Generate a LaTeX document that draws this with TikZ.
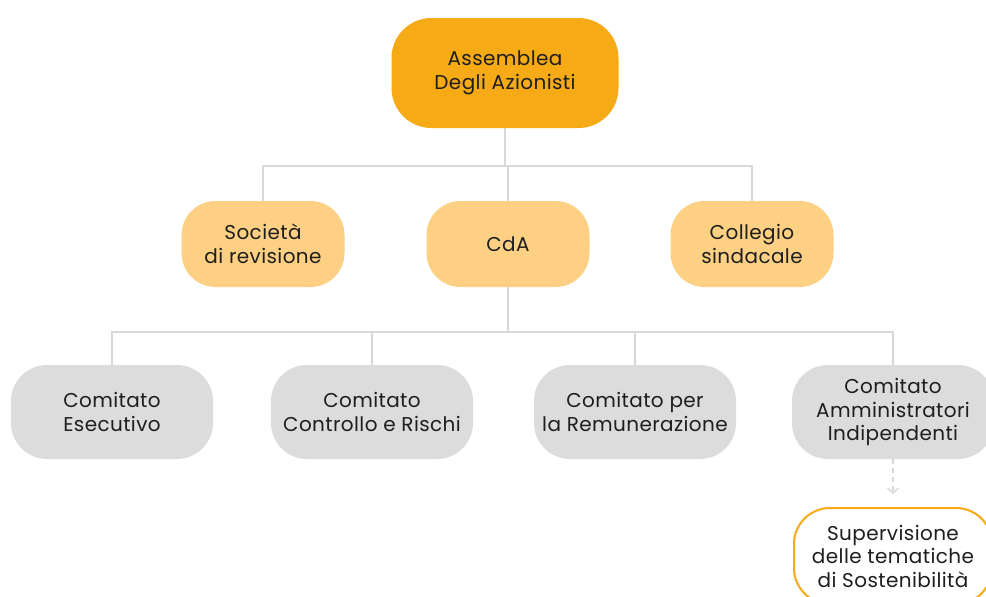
\documentclass[tikz,border=0pt]{standalone}
\usepackage{fontspec}
\setmainfont[LetterSpace=2]{Poppins}
\usepackage{xcolor}
\usepackage{tikz}
\usetikzlibrary{arrows.meta}
\definecolor{assorange}{HTML}{F6AB16}
\definecolor{paleorange}{HTML}{FDD084}
\definecolor{boxgray}{HTML}{DCDCDC}
\definecolor{linegray}{HTML}{D8D8D8}
\definecolor{txt}{HTML}{1E1E1E}

\begin{document}
\begin{tikzpicture}[x=1pt,y=-1pt,
    every node/.style={font=\fontsize{20}{23.5}\selectfont,text=txt,align=center},
    topbox/.style={fill=assorange,rounded corners=40pt,minimum width=227pt,minimum height=110pt},
    midbox/.style={fill=paleorange,rounded corners=34pt,minimum width=163pt,minimum height=86pt},
    combox/.style={fill=boxgray,rounded corners=36pt,minimum width=202pt,minimum height=94pt},
    supbox/.style={draw=assorange,line width=2pt,fill=white,rounded corners=36pt,minimum width=198pt,minimum height=96pt},
    conn/.style={draw=linegray,line width=1.5pt}]
    \useasboundingbox (0,0) rectangle (986,597);
    \clip (0,0) rectangle (986,597);
    \node[topbox] (assem) at (505,73) {Assemblea\\Degli Azionisti};
    \node[midbox] (soc) at (263,244) {Società\\di revisione};
    \node[midbox] (cda) at (508,244) {CdA};
    \node[midbox] (coll) at (752,244) {Collegio\\sindacale};
    \node[combox] (esec) at (112,412) {Comitato\\Esecutivo};
    \node[combox] (ctrl) at (372,412) {Comitato\\Controllo e Rischi};
    \node[combox] (rem) at (635,412) {Comitato per\\la Remunerazione};
    \node[combox] (ind) at (893,412) {Comitato\\Amministratori\\Indipendenti};
    \node[supbox] (sost) at (893,556) {Supervisione\\delle tematiche\\di Sostenibilità};
    \coordinate (bus1) at (505,166);
    \coordinate (bus2) at (508,332);
    \coordinate (tip) at (893,494);
    \draw[conn] (assem.south) -- (bus1);
    \draw[conn] (soc.north) |- (bus1) -| (coll.north);
    \draw[conn] (bus1) -| (cda.north);
    \draw[conn] (cda.south) -- (bus2);
    \draw[conn] (esec.north) |- (bus2) -| (ind.north);
    \draw[conn] (ctrl.north) |- (bus2);
    \draw[conn] (rem.north) |- (bus2);
    \draw[conn,dashed,dash pattern=on 5pt off 4pt,-{Straight Barb[length=5pt,width=11pt]}] (ind.south) -- (tip);
\end{tikzpicture}
\end{document}
